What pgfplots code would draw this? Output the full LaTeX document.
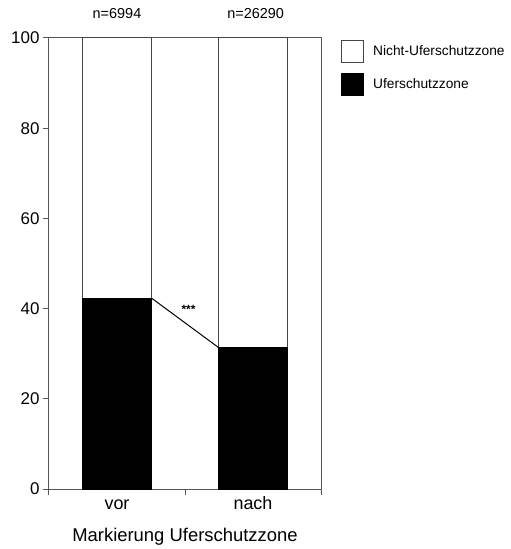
\documentclass[border=0pt]{standalone}
\usepackage{pgfplots}
\pgfplotsset{compat=1.18}
\usepackage{fontspec}
\setmainfont{Liberation Sans}
\definecolor{axgray}{HTML}{555555}
\definecolor{bargray}{HTML}{444444}
\pgfplotsset{
  sqlegend/.style={legend image code/.code={\draw[##1, line width=1bp] (0bp,-11bp) rectangle (22bp,11bp);}},
}
\begin{document}
\begin{tikzpicture}
\path[use as bounding box] (-49bp,-60bp) rectangle (462bp,489bp);
\begin{axis}[
  at={(0,0)}, anchor=south west,
  scale only axis, width=272bp, height=451bp,
  xmin=-0.5, xmax=1.5, ymin=0, ymax=100,
  clip=false,
  axis line style={axgray, line width=1bp},
  every tick/.style={axgray, line width=1bp},
  tick align=outside, tick pos=left,
  major tick length=6bp,
  xtick={-0.5,0.5,1.5}, xticklabels=\empty,
  extra x ticks={0,1}, extra x tick labels={vor,nach},
  extra x tick style={major tick length=0pt},
  ytick={0,20,...,100},
  /pgf/number format/assume math mode=true,
  yticklabel style={font=\fontsize{17}{20}\selectfont},
  xticklabel style={font=\fontsize{18}{21}\selectfont, text height=13bp, text depth=4bp, yshift=-4bp},
  xlabel={Markierung Uferschutzzone},
  xlabel style={font=\fontsize{18.5}{22}\selectfont, at={(axis description cs:0.5,0)}, anchor=center, yshift=-48bp},
  legend style={at={(1,1)}, anchor=north west, xshift=20bp, yshift=-2bp, draw=none, fill=none,
    inner sep=0pt, font=\fontsize{13.8}{16}\selectfont, row sep=10bp,
    /tikz/every odd column/.append style={column sep=7bp}},
  legend cell align=left,
]
\addplot[ybar, bar width=0.51, bar shift=0pt, fill=white, draw=bargray, line width=1bp, sqlegend]
  coordinates {(0,100) (1,100)};
\addlegendentry{Nicht-Uferschutzzone}
\addplot[ybar, bar width=0.51, bar shift=0pt, fill=black, draw=black, line width=1bp, sqlegend]
  coordinates {(0,42.3) (1,31.4)};
\addlegendentry{Uferschutzzone}
\addplot[black, line width=1bp, forget plot] coordinates {(0.255,42.3) (0.745,31.4)};
\node[font=\fontsize{14.5}{17}\selectfont] at (axis cs:0,100) [yshift=24bp] {n=6994};
\node[font=\fontsize{14.5}{17}\selectfont] at (axis cs:1.02,100) [yshift=24bp] {n=26290};
\node[font=\bfseries\fontsize{12}{14}\selectfont] at (axis cs:0.526,40.4) [yshift=-3bp] {***};
\end{axis}
\end{tikzpicture}
\end{document}
